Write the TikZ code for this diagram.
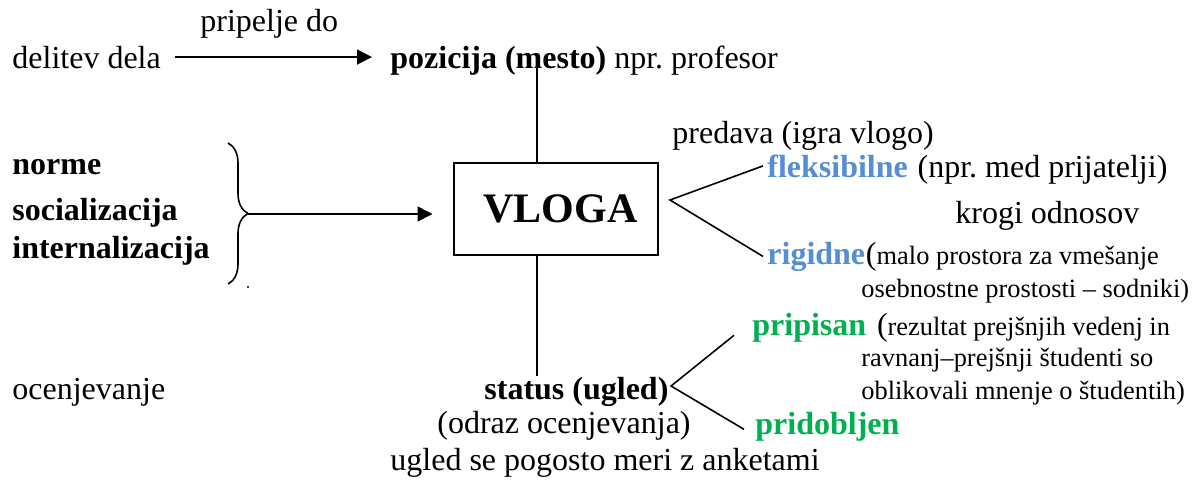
\documentclass[tikz,border=0pt]{standalone}
\usepackage{fontspec}
\setmainfont{Liberation Serif}
\usepackage{tikz}
\usetikzlibrary{arrows.meta, positioning, calc, decorations.pathreplacing}
\definecolor{modra}{HTML}{558ED5}
\definecolor{zelena}{HTML}{00B050}
\frenchspacing
\tikzset{
  besedilo/.style={inner sep=0pt, anchor=base west, font=\fontsize{16}{19}\selectfont},
  krepko/.style={besedilo, font=\fontsize{16}{19}\selectfont\bfseries},
  drobno/.style={besedilo, font=\fontsize{13.2}{16}\selectfont},
  okvir/.style={rectangle, draw, line width=1pt, minimum width=102pt,
    minimum height=46pt, font=\fontsize{21}{25}\selectfont\bfseries},
  puscica/.style={-{Triangle[length=7.5pt,width=7.5pt]}, line width=0.8pt},
  crta/.style={line width=0.8pt}
}

\begin{document}
\begin{tikzpicture}[x=0.5pt, y=-0.5pt]
  \useasboundingbox (0,0) rectangle (1198,482);

  % --- zgoraj: delitev dela -> pozicija ---
  \node[besedilo] (pripelje) at (200,32) {pripelje do};
  \node[besedilo] (delitev) at (12,68) {delitev dela};
  \node[besedilo] (pozicija) at (390,68) {\textbf{pozicija (mesto)} npr. profesor};
  \draw[puscica, shorten <=7pt, shorten >=9pt] (delitev.east) -- (delitev.east -| pozicija.west);

  % --- vloga ---
  \node[okvir] (vloga) at (555.5,208.5) {\hspace*{5pt}VLOGA};
  \coordinate (m) at (537,67);
  \draw[crta] (m) -- (m |- vloga.north);

  % --- levo: norme ---
  \node[krepko] (norme) at (12,174) {norme};
  \node[krepko] (socializacija) at (12,220) {socializacija};
  \node[krepko] (internalizacija) at (12,258) {internalizacija};
  \draw[crta, decorate, decoration={brace, amplitude=10pt}] (228,143) -- (228,284);
  \coordinate (konica) at (248,214);
  \draw[puscica, shorten >=10pt] (konica) -- (konica -| vloga.west);
  \fill (248,287) circle (0.6pt);

  % --- desno: vloge ---
  \node[besedilo] (predava) at (672,143) {predava (igra vlogo)};
  \node[krepko, text=modra] (fleks) at (767,177) {fleksibilne};
  \node[besedilo] (prijatelji) at ([xshift=4.5pt]fleks.base east) {(npr. med prijatelji)};
  \node[besedilo] (krogi) at (955,223) {krogi odnosov};
  \node[krepko, text=modra] (rigidne) at (767,264) {rigidne};
  \node[drobno] (malo) at (rigidne.base east) {{\fontsize{16}{19}\selectfont(}malo prostora za vmešanje};
  \node[drobno] (osebnostne) at (861,297) {osebnostne prostosti – sodniki)};
  \coordinate (razcep) at (670,200);
  \draw[crta] ([xshift=-2pt]fleks.west) -- (razcep) -- ([xshift=-2pt]rigidne.west);

  % --- spodaj: status ---
  \node[besedilo] (ocenjevanje) at (12,399) {ocenjevanje};
  \node[krepko] (status) at (484,399) {status (ugled)};
  \node[besedilo] (odraz) at (437,433) {(odraz ocenjevanja)};
  \node[besedilo] (anketami) at (390,470) {ugled se pogosto meri z anketami};
  \draw[crta] (m |- vloga.south) -- (m |- status.north);

  \node[krepko, text=zelena] (pripisan) at (752,335) {pripisan};
  \node[drobno] (rezultat) at ([xshift=5pt]pripisan.base east) {{\fontsize{16}{19}\selectfont(}rezultat prejšnjih vedenj in};
  \node[drobno] (ravnanj) at (861,366) {ravnanj–prejšnji študenti so};
  \node[drobno] (oblikovali) at (861,399) {oblikovali mnenje o študentih)};
  \node[krepko, text=zelena] (pridobljen) at (755,434) {pridobljen};
  \coordinate (razcep2) at (671,386);
  \draw[crta] ([shift={(-18,8)}]pripisan.west) -- (razcep2) -- ([shift={(-11,3)}]pridobljen.west);

\end{tikzpicture}
\end{document}
